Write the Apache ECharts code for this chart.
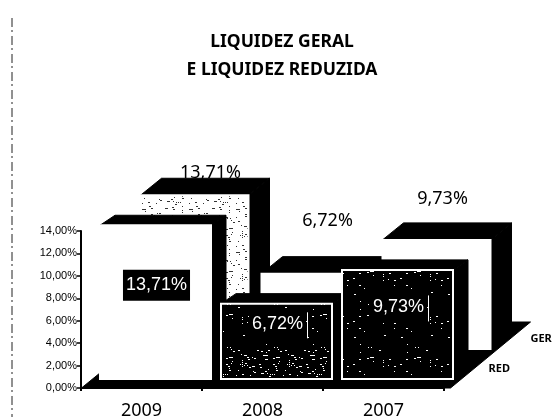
<!DOCTYPE html>
<html>
<head>
<meta charset="utf-8">
<title>Liquidez</title>
<script src="https://cdn.jsdelivr.net/npm/echarts@6/dist/echarts.min.js"></script>
<style>
  html, body { margin: 0; padding: 0; background: #fff; }
  #chart { width: 555px; height: 417px; }
</style>
</head>
<body>
<div id="chart"></div>
<script>
// dados
var categories = ['2009', '2008', '2007'];
var gerValues = [13.71, 6.72, 9.73];
var redValues = [13.71, 6.72, 9.73];
var yTicks = ['0,00%', '2,00%', '4,00%', '6,00%', '8,00%', '10,00%', '12,00%', '14,00%'];
var titleLines = ['LIQUIDEZ GERAL', 'E LIQUIDEZ REDUZIDA'];

// layout das colunas 3D, em pixels a partir do eixo
var redBox = { dx: 14, base: -9, width: 111, depthX: 15, depthY: -10 };
var gerBox = { dx: 53, base: -39, width: 108, depthX: 21, depthY: -17 };
// os rotulos de GER foram movidos a mao no original
var gerLabelPos = [[69, -22], [65, -53], [59, -41]];

// textura de pontos (scan)
function speckle (bg, dot, every) {
  var c = document.createElement('canvas');
  c.width = 47;
  c.height = 43;
  var ctx = c.getContext('2d');
  ctx.fillStyle = bg;
  ctx.fillRect(0, 0, 47, 43);
  ctx.fillStyle = dot;
  var s = 17;
  for (var i = 0; i < every; i++) {
    s = (s * 137 + 59) % 2017;
    ctx.fillRect(s % 47, (s >> 3) % 43, 1 + i % 2, 1);
  }
  return { image: c, repeat: 'repeat' };
}

var darkFill = speckle('#000', '#fff', 22);
var denseFill = speckle('#000', '#fff', 120);
var greyFill = speckle('#fff', '#333', 110);

function poly (points, fill) {
  return { type: 'polygon', shape: { points: points }, style: { fill: fill, stroke: '#000', lineWidth: 1 } };
}

function box3d (x, top, w, bottom, d, faceFill, low) {
  var dx = d.depthX, dy = d.depthY;
  var kids = [
    poly([[x + w, top], [x + w + dx, top + dy], [x + w + dx, bottom + dy], [x + w, bottom]], '#000'),
    poly([[x, top], [x + dx, top + dy], [x + w + dx, top + dy], [x + w, top]], '#000'),
    {
      type: 'rect',
      shape: { x: x, y: top, width: w, height: bottom - top },
      style: { fill: faceFill, stroke: '#fff', lineWidth: 2 }
    }
  ];
  if (low) {
    kids.push({
      type: 'rect',
      shape: { x: x + 2, y: bottom - 30, width: w - 4, height: 28 },
      style: { fill: denseFill }
    });
  }
  return kids;
}

function renderGer (params, api) {
  var i = api.value(0);
  var p = api.coord([i, api.value(1)]);
  var z = api.coord([i, 0]);
  var x = p[0] + gerBox.dx - gerBox.width / 2;
  var fill = i === 0 ? greyFill : '#fff';
  var kids = box3d(x, p[1] + gerBox.base, gerBox.width, z[1] + gerBox.base, gerBox, fill, false);
  var lp = gerLabelPos[i];
  kids.push({
    type: 'text',
    z2: 20,
    style: {
      x: p[0] + lp[0], y: p[1] + gerBox.base + lp[1],
      text: api.value(1).toFixed(2).replace('.', ',') + '%',
      fill: '#000', font: '18px "Noto Sans"', align: 'center', verticalAlign: 'middle'
    }
  });
  return { type: 'group', children: kids };
}

function renderRed (params, api) {
  var i = api.value(0);
  var p = api.coord([i, api.value(1)]);
  var z = api.coord([i, 0]);
  var x = p[0] + redBox.dx - redBox.width / 2;
  var top = p[1] + redBox.base;
  var bottom = z[1] + redBox.base;
  var kids = box3d(x, top, redBox.width, bottom, redBox, i === 0 ? '#fff' : darkFill, i === 1);
  var cx = x + redBox.width / 2 + 1;
  var cy = (top + bottom) / 2 - 17;
  var txt = api.value(1).toFixed(2).replace('.', ',') + '%';
  kids.push({
    type: 'text',
    style: {
      x: cx, y: cy, text: txt, fill: '#fff', font: '18px "Liberation Sans"',
      align: 'center', verticalAlign: 'middle',
      backgroundColor: '#000', padding: [7, 3, 6, 3]
    }
  });
  if (i > 0) {
    // risquinho branco que sobrou do scan
    kids.push({
      type: 'line',
      shape: { x1: cx + 30, y1: cy - 12, x2: cx + 30, y2: cy + 14 },
      style: { stroke: '#fff', lineWidth: 1 }
    });
  }
  return { type: 'group', children: kids };
}

// piso preto
function renderFloor (params, api) {
  var a = api.coord([0, 0]);
  var l = a[0] - 60;
  var y = a[1];
  return {
    type: 'group',
    children: [
      poly([[l, y], [l + 369, y], [l + 449, y - 66], [l + 81, y - 66]], '#000'),
      {
        type: 'text',
        style: { x: l + 449, y: y - 49, text: 'GER', fill: '#000', font: 'bold 11px "Noto Sans"', align: 'left', verticalAlign: 'middle' }
      },
      {
        type: 'text',
        style: { x: l + 407, y: y - 19, text: 'RED', fill: '#000', font: 'bold 11px "Noto Sans"', align: 'left', verticalAlign: 'middle' }
      }
    ]
  };
}

var gerData = gerValues.map(function (v, i) { return [i, v]; });
var redData = redValues.map(function (v, i) { return [i, v]; });

var myChart = echarts.init(document.getElementById('chart'), null, { renderer: 'canvas' });

var option = {
  animation: false,
  backgroundColor: '#fff',
  title: {
    text: titleLines.join('\n'),
    left: 277,
    top: 23,
    textAlign: 'center',
    textStyle: { fontFamily: 'Noto Sans', fontSize: 17.5, fontWeight: 'bold', color: '#000', lineHeight: 28 }
  },
  grid: { left: 81, top: 231, width: 363, bottom: 29, containLabel: false, outerBoundsMode: 'none' },
  xAxis: {
    type: 'category',
    data: categories,
    axisLine: { lineStyle: { color: '#000', width: 2 } },
    axisTick: { show: true, length: 3, alignWithLabel: false, lineStyle: { color: '#000', width: 2 } },
    axisLabel: { color: '#000', fontFamily: 'Noto Sans', fontSize: 18, margin: 14 }
  },
  yAxis: {
    type: 'value',
    min: 0,
    max: 14,
    interval: 2,
    splitLine: { show: false },
    axisLine: { show: true, lineStyle: { color: '#000', width: 2 } },
    axisTick: { show: true, length: 4, lineStyle: { color: '#000', width: 1.5 } },
    axisLabel: {
      color: '#000',
      fontFamily: 'Liberation Sans',
      fontSize: 11,
      margin: 4,
      formatter: function (v) { return yTicks[v / 2]; }
    }
  },
  series: [
    { name: 'piso', type: 'custom', clip: false, z: 1, data: [[0, 0]], renderItem: renderFloor },
    { name: 'GER', type: 'custom', clip: false, z: 2, data: gerData, renderItem: renderGer },
    { name: 'RED', type: 'custom', clip: false, z: 3, data: redData, renderItem: renderRed }
  ],
  graphic: [
    {
      // linha tracejada da margem do scan
      type: 'line',
      shape: { x1: 12, y1: 18, x2: 12, y2: 417 },
      style: { stroke: '#222', lineWidth: 1, lineDash: [9, 3, 2, 4] }
    }
  ]
};

myChart.setOption(option);
</script>
</body>
</html>
